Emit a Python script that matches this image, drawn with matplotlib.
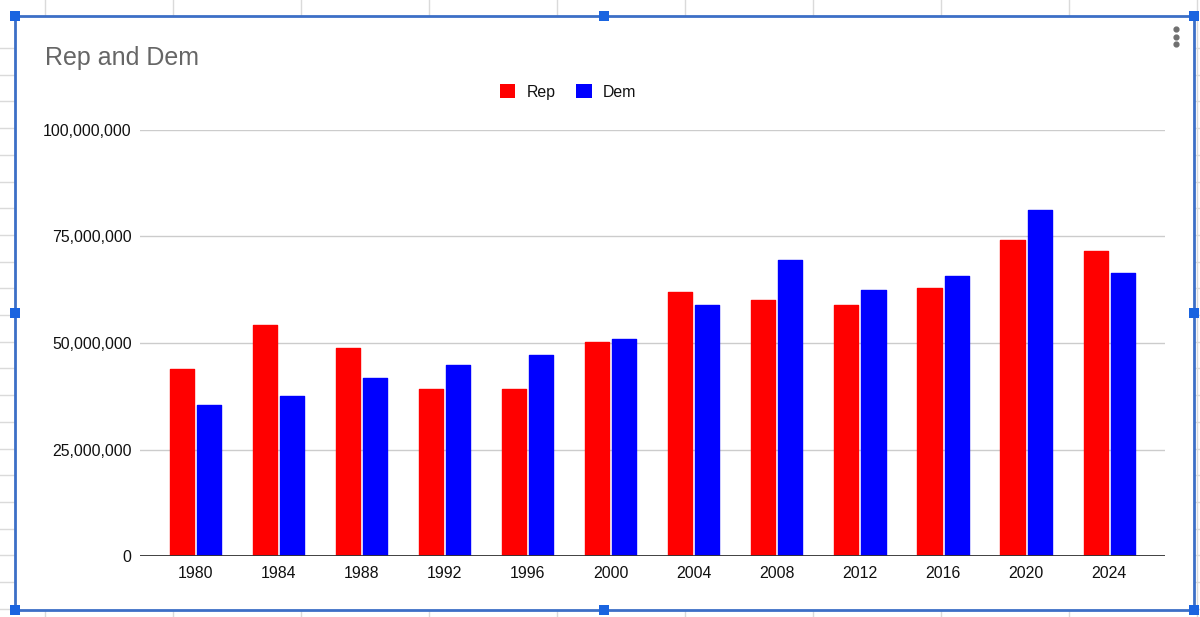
import numpy as np
import matplotlib
matplotlib.use("Agg")
import matplotlib.pyplot as plt
from matplotlib.patches import Rectangle, Patch
from matplotlib.ticker import FuncFormatter

years = ["1980", "1984", "1988", "1992", "1996", "2000",
         "2004", "2008", "2012", "2016", "2020", "2024"]
rep = [43.8, 54.2, 48.9, 39.1, 39.2, 50.3, 62.0, 60.0, 59.0, 62.8, 74.2, 71.6]
dem = [35.5, 37.5, 41.7, 44.8, 47.3, 50.9, 59.0, 69.5, 62.5, 65.8, 81.3, 66.4]
rep = np.array(rep) * 1e6
dem = np.array(dem) * 1e6

plt.rcParams['font.family'] = ['Liberation Sans', 'DejaVu Sans']

W, H = 1200, 617
fig = plt.figure(figsize=(W / 100, H / 100), dpi=100)

# spreadsheet background + chart frame
bg = fig.add_axes([0, 0, 1, 1], zorder=0)
bg.set_xlim(0, W)
bg.set_ylim(H, 0)
bg.axis('off')
for x in range(45, W, 128):
    bg.plot([x, x], [0, H], color='#dadada', lw=1)
for y in np.arange(48, H, 26.7):
    bg.plot([0, W], [y, y], color='#dadada', lw=1)
bg.add_patch(Rectangle((15, 16), 1179, 594, facecolor='white', edgecolor='#3c6fc6', lw=2, zorder=3))
for hx, hy in [(15, 16), (604, 16), (1194, 16), (15, 313), (1194, 313),
               (15, 610), (604, 610), (1194, 610)]:
    bg.add_patch(Rectangle((hx - 5, hy - 5), 10, 10, facecolor='#1a64e0', edgecolor='none', zorder=4))
bg.scatter([1176, 1176, 1176], [29, 37, 44], s=12, color='#6f6f6f', zorder=5)

fig.text(45 / W, 1 - 58 / H, "Rep and Dem", fontsize=18, color='#666666',
         ha='left', va='center')

# chart
ax = fig.add_axes([140 / W, 1 - 556 / H, 1025 / W, 426 / H], zorder=2)
ax.set_facecolor('none')
x = np.arange(len(years))
bw = 0.29
off = 0.163
ax.bar(x - off, rep, bw, color='#ff0000', edgecolor='#ff0000', lw=1, joinstyle='round', zorder=3)
ax.bar(x + off, dem, bw, color='#0000ff', edgecolor='#0000ff', lw=1, joinstyle='round', zorder=3)

ax.set_xlim(-0.669, 11.673)
ax.set_ylim(0, 100e6)
ax.set_yticks([0, 25e6, 50e6, 75e6, 100e6])
ax.yaxis.set_major_formatter(FuncFormatter(lambda v, p: f"{int(v):,}"))
ax.set_xticks(x)
ax.set_xticklabels(years)
ax.grid(axis='y', color='#cccccc', lw=1, zorder=0)
ax.axhline(0, color='#333333', lw=1.3, zorder=4)
for s in ax.spines.values():
    s.set_visible(False)
ax.tick_params(axis='both', length=0, labelsize=11.4, colors='#111111')
ax.tick_params(axis='y', pad=6)
ax.tick_params(axis='x', pad=7)

handles = [Patch(facecolor='#ff0000', label='Rep'), Patch(facecolor='#0000ff', label='Dem')]
fig.legend(handles=handles, loc='center', bbox_to_anchor=(568 / W, 1 - 92 / H), ncol=2,
           frameon=False, fontsize=11.4, handlelength=1.0, handleheight=1.0,
           handletextpad=0.7, columnspacing=1.3, labelcolor='#111111')

fig.savefig("out.png", dpi=100)
